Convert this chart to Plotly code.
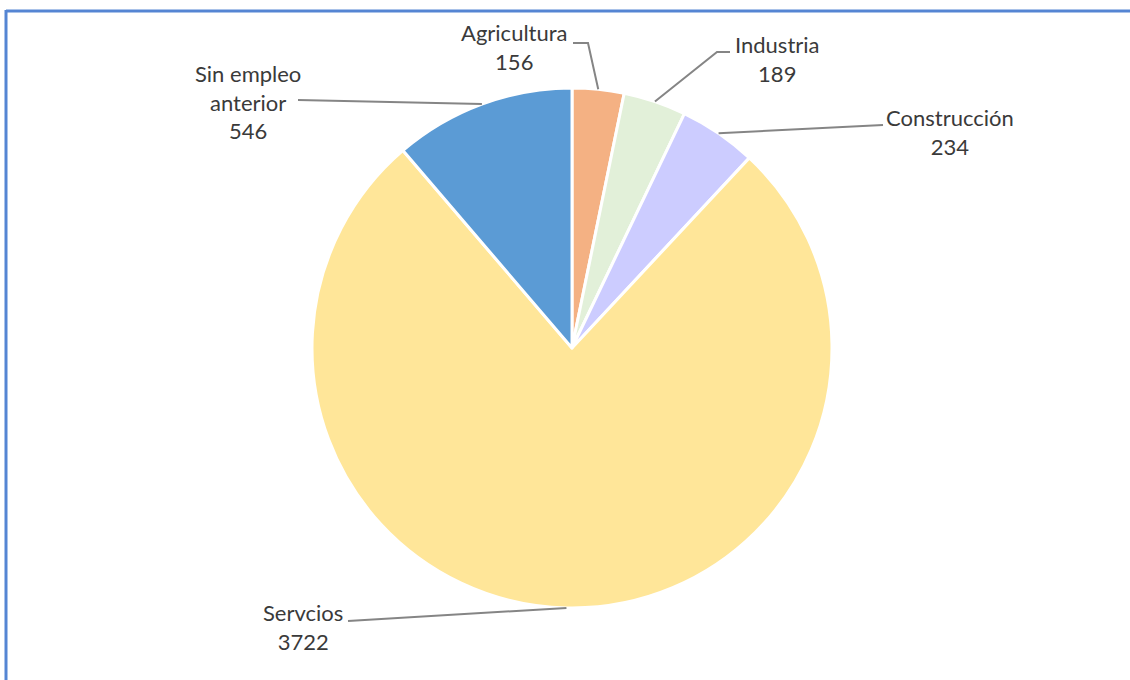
import math
import plotly.graph_objects as go

# ---- data ----
categories = ["Agricultura", "Industria", "Construcción", "Servcios", "Sin empleo anterior"]
label_text = ["Agricultura", "Industria", "Construcción", "Servcios", "Sin empleo<br>anterior"]
values = [156, 189, 234, 3722, 546]
colors = ["#F4B183", "#E2F0D9", "#CCCCFF", "#FFE699", "#5B9BD5"]

# ---- layout ----
W, H = 1130, 680
CX, CY, R = 572, 348, 260  # pie centre / radius in pixels

# label block centres (px) and leader line knee points (px) -- layout positions
label_pos = [(514, 47), (777, 59), (950, 132), (303, 627), (248, 102)]
leader_knee = [[(573, 43), (588, 43)], [(730, 52), (717, 52)], [(883, 125)], [(348, 621)], [(298, 100)]]

fig = go.Figure(go.Pie(
    labels=categories, values=values, sort=False, direction="clockwise", rotation=0,
    marker=dict(colors=colors, line=dict(color="white", width=3)),
    textinfo="none", hoverinfo="label+value", showlegend=False,
    domain=dict(x=[(CX - R) / W, (CX + R) / W], y=[1 - (CY + R) / H, 1 - (CY - R) / H]),
))

def px(x, y):
    return x / W, 1 - y / H

total = sum(values)
cum = 0
shapes = []
annotations = []
for i, v in enumerate(values):
    mid = (cum + v / 2) / total * 2 * math.pi
    cum += v
    ex = CX + R * math.sin(mid)
    ey = CY - R * math.cos(mid)
    pts = leader_knee[i] + [(ex, ey)]
    path = ""
    for j, (x, y) in enumerate(pts):
        X, Y = px(x, y)
        path += ("M" if j == 0 else " L") + f" {X} {Y}"
    shapes.append(dict(type="path", path=path, xref="paper", yref="paper",
                       line=dict(color="#858585", width=2)))
    lx, ly = px(*label_pos[i])
    annotations.append(dict(x=lx, y=ly, xref="paper", yref="paper", showarrow=False,
                            text=f"{label_text[i]}<br>{v}", align="center",
                            xanchor="center", yanchor="middle",
                            font=dict(family="Lato", size=22, color="#3A3A3A")))

# frame lines (left & top)
shapes.append(dict(type="line", xref="paper", yref="paper", x0=6 / W, x1=6 / W, y0=0, y1=1 - 10 / H,
                   line=dict(color="#5585D3", width=3)))
shapes.append(dict(type="line", xref="paper", yref="paper", x0=6 / W, x1=1, y0=1 - 11 / H, y1=1 - 11 / H,
                   line=dict(color="#5585D3", width=3)))

fig.update_layout(width=W, height=H, margin=dict(l=0, r=0, t=0, b=0),
                  paper_bgcolor="white", plot_bgcolor="white",
                  shapes=shapes, annotations=annotations)
fig.write_html("out.html", config={"displayModeBar": False},
               post_script="document.body.style.margin='0px';")
